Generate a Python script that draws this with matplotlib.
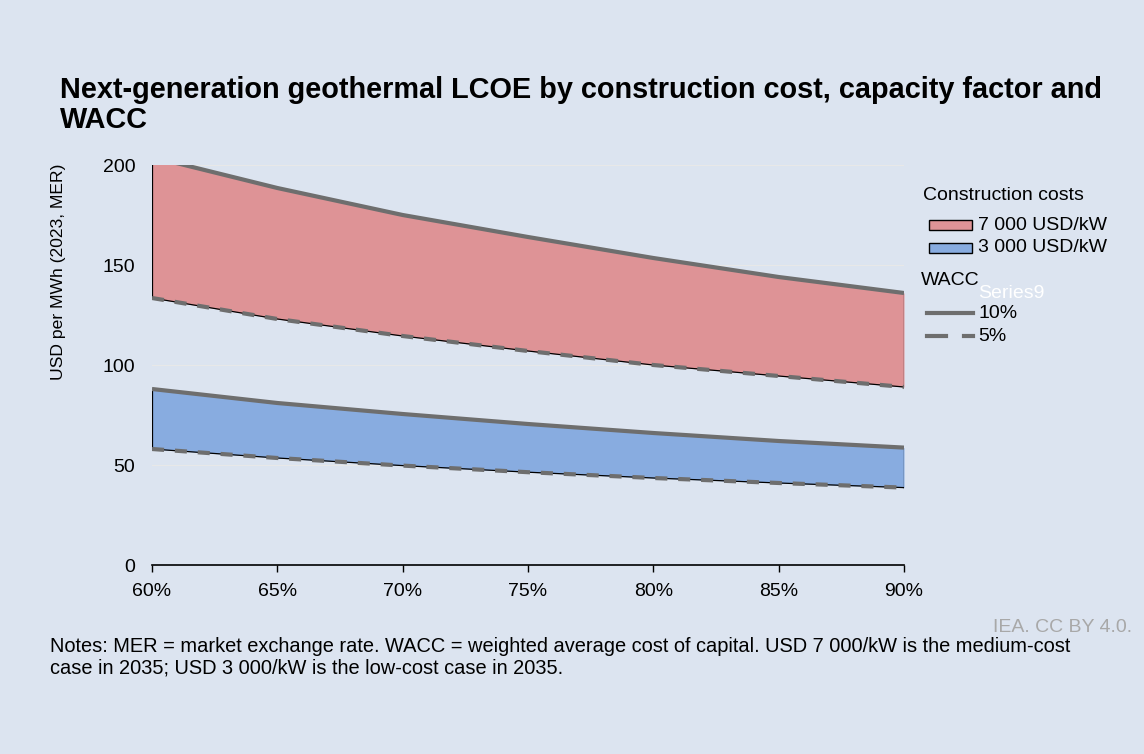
import matplotlib
matplotlib.use("Agg")
import matplotlib.pyplot as plt
from matplotlib.patches import Rectangle
from matplotlib.lines import Line2D
from matplotlib.ticker import FuncFormatter

plt.rcParams['font.family'] = ['Liberation Sans', 'DejaVu Sans']

# capacity factor (%) and LCOE in USD/MWh
capacity_factor = [60, 65, 70, 75, 80, 85, 90]
high_cost_wacc10 = [204, 188.5, 175, 164, 153.5, 144, 136]
high_cost_wacc5 = [133.5, 123, 114.5, 107, 100, 94.5, 89]
low_cost_wacc10 = [88, 81, 75.5, 70.5, 66, 62, 58.7]
low_cost_wacc5 = [58, 53.5, 49.7, 46.4, 43.5, 41, 38.7]

y_ticks = [0, 50, 100, 150, 200]
cost_labels = ["7 000 USD/kW", "3 000 USD/kW"]
wacc_labels = ["10%", "5%"]

BG = "#dce4f0"
RED = "#de9396"
BLUE = "#88ace0"
GREY = "#6e6e6e"
FS = 14

W, H = 1144, 754
fig = plt.figure(figsize=(W / 100, H / 100), dpi=100, facecolor=BG)


def fx(x):
    return x / W


def fy(y):
    return 1 - y / H


ax = fig.add_axes([fx(152), fy(565), fx(904) - fx(152), fy(165) - fy(565)])
ax.set_facecolor(BG)

# shaded ranges between 5% and 10% WACC
for top, bottom, color in [(high_cost_wacc10, high_cost_wacc5, RED),
                           (low_cost_wacc10, low_cost_wacc5, BLUE)]:
    ax.fill_between(capacity_factor, bottom, top, color=color, lw=0, zorder=2)
    ax.plot(capacity_factor, bottom, color="black", lw=0.9, zorder=3)
    for i in (0, -1):
        ax.plot([capacity_factor[i]] * 2, [bottom[i], top[i]], color="black", lw=0.9, zorder=3)
    ax.plot(capacity_factor, top, color=GREY, lw=3, zorder=4, solid_capstyle="butt")
    ax.plot(capacity_factor, bottom, color=GREY, lw=3, zorder=4, dashes=(2.9, 2.6))

ax.set_xlim(60, 90)
ax.set_ylim(0, 200)
ax.set_yticks(y_ticks)
ax.set_xticks(capacity_factor)
ax.xaxis.set_major_formatter(FuncFormatter(lambda v, p: f"{v:.0f}%"))
ax.grid(axis="y", color="#e8e8e8", lw=0.8, zorder=1)
for s in ("top", "right", "left"):
    ax.spines[s].set_visible(False)
ax.spines["bottom"].set_color("black")
ax.spines["bottom"].set_linewidth(1.2)
ax.spines["bottom"].set_zorder(5)
ax.tick_params(axis="y", length=0, pad=12, labelsize=FS)
ax.tick_params(axis="x", length=5, width=1, color="black", pad=8, labelsize=FS)
ax.set_ylabel("USD per MWh (2023, MER)", fontsize=12.6)
ax.yaxis.set_label_coords(fx(66), fy(272), transform=fig.transFigure)

fig.text(fx(60), fy(105), "Next-generation geothermal LCOE by construction cost, capacity factor and\nWACC",
         fontsize=20.8, fontweight="bold", va="center", ha="left", linespacing=1.1)

# legend
fig.text(fx(923), fy(196), "Construction costs", fontsize=FS, va="center")
for y, color, label in [(225, RED, cost_labels[0]), (248, BLUE, cost_labels[1])]:
    fig.add_artist(Rectangle((fx(929), fy(y + 5)), fx(43), fy(y - 5) - fy(y + 5),
                             facecolor=color, edgecolor="black", lw=1))
    fig.text(fx(978), fy(y), label, fontsize=FS, va="center")
fig.text(fx(921), fy(280), "WACC", fontsize=FS, va="center")
fig.text(fx(978), fy(293), "Series9", fontsize=FS, va="center", color="white")
fig.add_artist(Line2D([fx(927), fx(973)], [fy(313)] * 2, color=GREY, lw=3))
fig.text(fx(978), fy(313), wacc_labels[0], fontsize=FS, va="center")
fig.add_artist(Line2D([fx(927), fx(946)], [fy(336)] * 2, color=GREY, lw=3))
fig.add_artist(Line2D([fx(964), fx(973)], [fy(336)] * 2, color=GREY, lw=3))
fig.text(fx(978), fy(336), wacc_labels[1], fontsize=FS, va="center")

fig.text(fx(1132), fy(627), "IEA. CC BY 4.0.", fontsize=FS, color="#a8a8a8", ha="right", va="center")
fig.text(fx(50), fy(657), "Notes: MER = market exchange rate. WACC = weighted average cost of capital. USD 7 000/kW is the medium-cost\n"
         "case in 2035; USD 3 000/kW is the low-cost case in 2035.",
         fontsize=14.4, va="center", linespacing=1.2)

fig.savefig("out.png", dpi=100, facecolor=BG)
